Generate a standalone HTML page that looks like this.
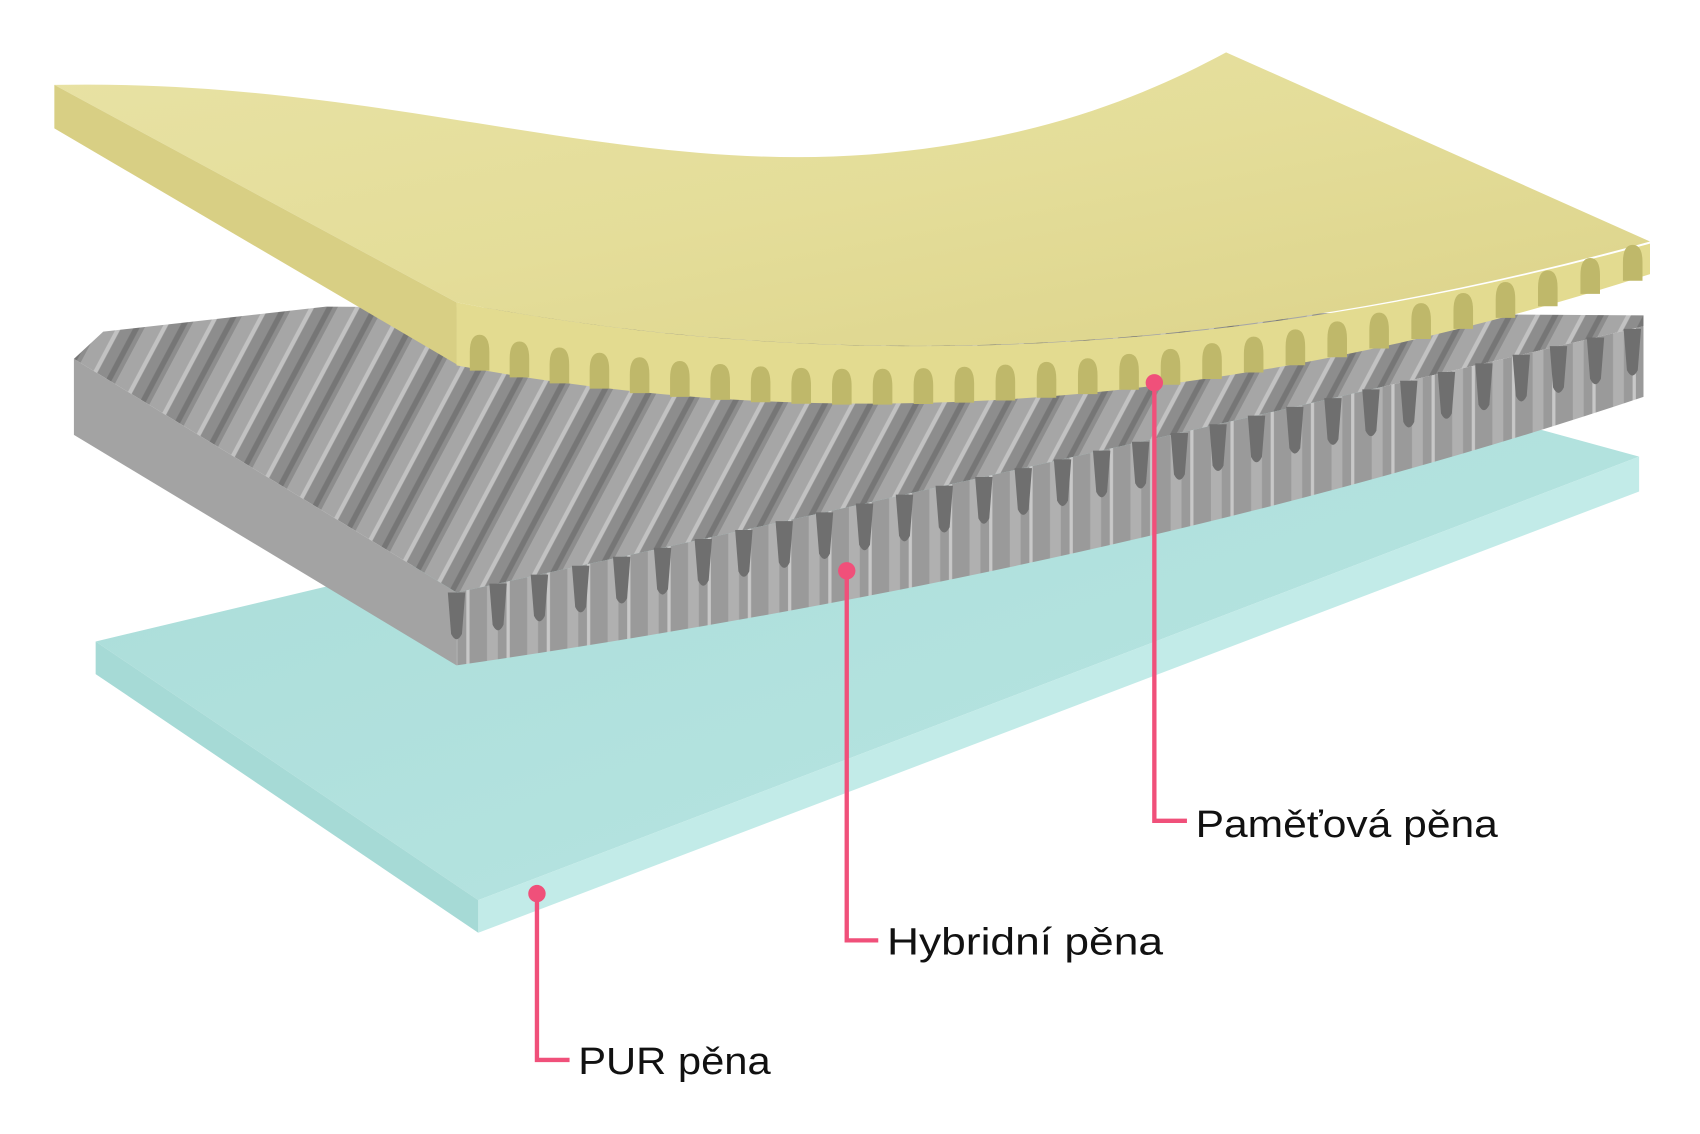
<!DOCTYPE html>
<html><head><meta charset="utf-8"><style>
html,body{margin:0;padding:0;background:#fff;width:1700px;height:1134px;overflow:hidden}
svg{display:block}
text{font-family:"Liberation Sans","DejaVu Sans",sans-serif;fill:#111}
</style></head><body>
<svg id="s" width="1700" height="1134" viewBox="0 0 1564 1043" xmlns="http://www.w3.org/2000/svg">
<defs>
<linearGradient id="cyTop" x1="0" y1="0" x2="1" y2="1"><stop offset="0" stop-color="#a9dcd8"/><stop offset="1" stop-color="#b9e6e3"/></linearGradient>
<linearGradient id="yTop" x1="0" y1="0" x2="1" y2="1"><stop offset="0" stop-color="#e8e2a4"/><stop offset="0.5" stop-color="#e4dd99"/><stop offset="1" stop-color="#dcd38a"/></linearGradient>
<pattern id="ridge" patternUnits="userSpaceOnUse" width="37" height="37" patternTransform="rotate(28)">
<rect width="37" height="37" fill="#8d8d8d"/>
<rect x="0" width="14" height="37" fill="#a6a6a6"/>
<rect x="14" width="4" height="37" fill="#c2c2c2"/>
<rect x="28" width="5" height="37" fill="#767676"/>
</pattern>
<pattern id="front" patternUnits="userSpaceOnUse" width="37" height="80">
<rect width="37" height="80" fill="#9a9a9a"/>
<rect x="4" width="10" height="80" fill="#b0b0b0"/>
<rect x="22" width="3" height="80" fill="#c8c8c8"/>
</pattern>
</defs>

<!-- cyan PUR layer -->
<polygon points="88,590 1180,330 1508,420 440,828" fill="url(#cyTop)"/>
<polygon points="440,828 1508,420 1508,452 440,858" fill="#c2ebe8"/>
<polygon points="88,590 440,828 440,858 88,620" fill="#a6dad6"/>

<!-- gray hybrid layer -->
<path d="M68,330 L95,305 L300,282 L1512,290 L1512,300 Q1000,420 420,545 Z" fill="url(#ridge)"/>
<path d="M420,545 Q1000,420 1512,300 L1512,365 Q1050,520 420,612 Z" fill="url(#front)"/>
<polygon points="68,330 420,545 420,612 68,400" fill="#a3a3a3"/>
<g id="gteeth"></g>

<!-- yellow memory foam -->
<path d="M50,78 C350,72 560,160 800,142 C950,130 1050,90 1128,48 L1518,222 Q950,380 420,278 Z" fill="url(#yTop)"/>
<polygon points="50,78 420,278 420,335 50,118" fill="#d8cf84"/>
<path d="M420,278 Q950,380 1518,224 L1518,252 Q950,436 420,336 Z" fill="#e3db90"/>
<g id="arches"></g>

<!-- connectors -->
<g stroke="#f0507a" stroke-width="4" fill="none">
<polyline points="1062,352 1062,755 1092,755"/>
<polyline points="779,525 779,865 808,865"/>
<polyline points="494,822 494,975 524,975"/>
</g>
<g fill="#f0507a">
<circle cx="1062" cy="352" r="8"/>
<circle cx="779" cy="525" r="8"/>
<circle cx="494" cy="822" r="8"/>
</g>
<text x="1100" y="770" font-size="35" textLength="278" lengthAdjust="spacingAndGlyphs">Paměťová pěna</text>
<text x="816" y="878" font-size="35" textLength="254" lengthAdjust="spacingAndGlyphs">Hybridní pěna</text>
<text x="532" y="988" font-size="35" textLength="177" lengthAdjust="spacingAndGlyphs">PUR pěna</text>
</svg>
<script>
(function(){
var NS="http://www.w3.org/2000/svg";
function q(p0,p1,p2,t){return (1-t)*(1-t)*p0+2*t*(1-t)*p1+t*t*p2;}
// yellow arches along bottom edge
var g=document.getElementById('arches');
for(var t=0.02;t<0.99;t+=0.0345){
 var x=q(420,950,1518,t), y=q(336,436,252,t);
 var p=document.createElementNS(NS,'path');
 p.setAttribute('d','M'+(x-9)+','+(y+1)+' L'+(x-9)+','+(y-16)+' Q'+(x-9)+','+(y-32)+' '+x+','+(y-32)+' Q'+(x+9)+','+(y-32)+' '+(x+9)+','+(y-16)+' L'+(x+9)+','+(y+1)+' Z');
 p.setAttribute('fill','#bfb86a');
 g.appendChild(p);
}
// gray teeth dark grooves on front face
var gg=document.getElementById('gteeth');
for(var t=0.0;t<1.0;t+=0.033){
 var x=q(420,1000,1512,t), y=q(545,420,300,t);
 var p=document.createElementNS(NS,'path');
 p.setAttribute('d','M'+(x-8)+','+y+' L'+(x-5)+','+(y+38)+' Q'+x+','+(y+48)+' '+(x+5)+','+(y+38)+' L'+(x+8)+','+y+' Z');
 p.setAttribute('fill','#6f6f6f');
 gg.appendChild(p);
}
})();
</script>
</body></html>
